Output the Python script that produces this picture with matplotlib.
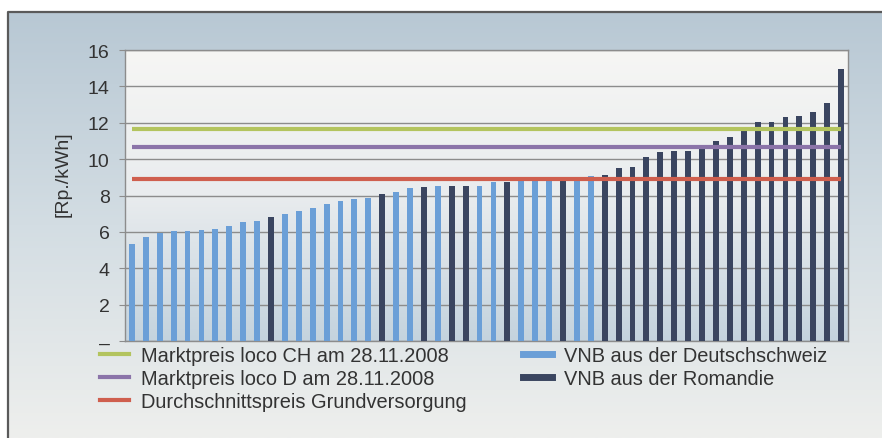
import numpy as np
import matplotlib
matplotlib.use('Agg')
import matplotlib.pyplot as plt
from matplotlib.colors import LinearSegmentedColormap
from matplotlib.lines import Line2D

# ============================================================
#  DATA
# ============================================================
# Preis je VNB, sortiert (Rp./kWh)
preise = [5.33, 5.73, 5.92, 6.03, 6.06, 6.08, 6.17, 6.33, 6.55, 6.59,
          6.83, 7.01, 7.15, 7.34, 7.56, 7.68, 7.79, 7.87, 8.09, 8.18,
          8.40, 8.49, 8.52, 8.52, 8.52, 8.54, 8.74, 8.72, 8.78, 8.80,
          8.80, 8.98, 9.04, 9.09, 9.12, 9.53, 9.58, 10.13, 10.40, 10.44,
          10.47, 10.55, 11.02, 11.19, 11.55, 12.03, 12.03, 12.32, 12.37, 12.57,
          13.07, 14.98]
# 'D' = Deutschschweiz, 'R' = Romandie
region = list('DDDDDDDDDDRDDDDDDDRDDRDRRDDRDDDRDDRRRRRRRRRRRRRRRRRR')

markt_ch = 11.68
markt_d = 10.68
grundversorgung = 8.9

yticks = [0, 2, 4, 6, 8, 10, 12, 14, 16]
ytick_labels = ['–', '2', '4', '6', '8', '10', '12', '14', '16']

legend_lines = ['Marktpreis loco CH am 28.11.2008',
                'Marktpreis loco D am 28.11.2008',
                'Durchschnittspreis Grundversorgung']
legend_bars = ['VNB aus der Deutschschweiz', 'VNB aus der Romandie']

# ============================================================
#  STYLE
# ============================================================
W, H = 882, 439
C_CH = '#b3c45e'
C_D = '#8b74a9'
C_GV = '#cf5f4e'
C_DS = '#6b9fd7'
C_RO = '#3a4560'
C_TXT = '#333333'
FONT = 'Liberation Sans'
plt.rcParams['font.family'] = [FONT, 'DejaVu Sans']

fig = plt.figure(figsize=(W / 100, H / 100), dpi=100)
fig.patch.set_facecolor('white')

# Hintergrund mit Verlauf (Pixelkoordinaten)
bg = fig.add_axes([0, 0, 1, 1], zorder=-5)
bg.set_xlim(0, W)
bg.set_ylim(H, 0)
bg.axis('off')
cmap_bg = LinearSegmentedColormap.from_list('bg', ['#b8c8d4', '#d3dde3', '#eeefed'])
grad = np.linspace(0, 1, 256).reshape(-1, 1)
bg.imshow(grad, cmap=cmap_bg, extent=[8, W, H, 13], aspect='auto')
bg.plot([8, 8, W], [H, 13, 13], color='#5a5a5a', lw=1.6)

# ============================================================
#  CHART
# ============================================================
ax = fig.add_axes([125 / W, 1 - 342 / H, 723 / W, 291 / H])
cmap_ax = LinearSegmentedColormap.from_list('ax', ['#f6f6f4', '#e9ecee', '#c4d3de'])
ax.imshow(grad, cmap=cmap_ax, extent=[0, 1, 0, 1], aspect='auto',
          transform=ax.transAxes, zorder=0)

x = np.arange(len(preise))
colors = [C_DS if r == 'D' else C_RO for r in region]
ax.bar(x, preise, width=0.42, color=colors, zorder=3)

ax.plot(x, np.full(len(x), markt_ch), color=C_CH, lw=3, zorder=4, solid_capstyle='butt')
ax.plot(x, np.full(len(x), markt_d), color=C_D, lw=3, zorder=4, solid_capstyle='butt')
ax.plot(x, np.full(len(x), grundversorgung), color=C_GV, lw=3, zorder=4, solid_capstyle='butt')

ax.set_xlim(-0.5, len(preise) - 0.5)
ax.set_ylim(0, 16)
ax.set_yticks(yticks)
ax.set_yticklabels(ytick_labels, fontsize=14, color=C_TXT)
ax.set_xticks([])
ax.tick_params(axis='y', length=4, pad=7, color='#8c8c8c')
ax.grid(axis='y', color='#8c8c8c', lw=1.0, zorder=1)
for s in ax.spines.values():
    s.set_color('#8c8c8c')
    s.set_linewidth(1.0)

ax.set_ylabel('[Rp./kWh]', fontsize=14, color=C_TXT)
ax.yaxis.set_label_coords((72 - 125) / 723, (342 - 174) / 291)

# ============================================================
#  LEGENDE
# ============================================================
h_lines = [Line2D([], [], color=c, lw=3) for c in (C_CH, C_D, C_GV)]
h_bars = [Line2D([], [], color=c, lw=5) for c in (C_DS, C_RO)]

leg_kw = dict(loc='upper left', frameon=False, fontsize=14.4,
              handlelength=1.45, handletextpad=0.6, labelspacing=0.21,
              borderaxespad=0, borderpad=0, labelcolor=C_TXT)
fig.legend(h_lines, legend_lines, bbox_to_anchor=(100 / W, 1 - 347 / H), **leg_kw)
fig.legend(h_bars, legend_bars, bbox_to_anchor=(523 / W, 1 - 347 / H), **leg_kw)

fig.savefig('out.png', dpi=100)
